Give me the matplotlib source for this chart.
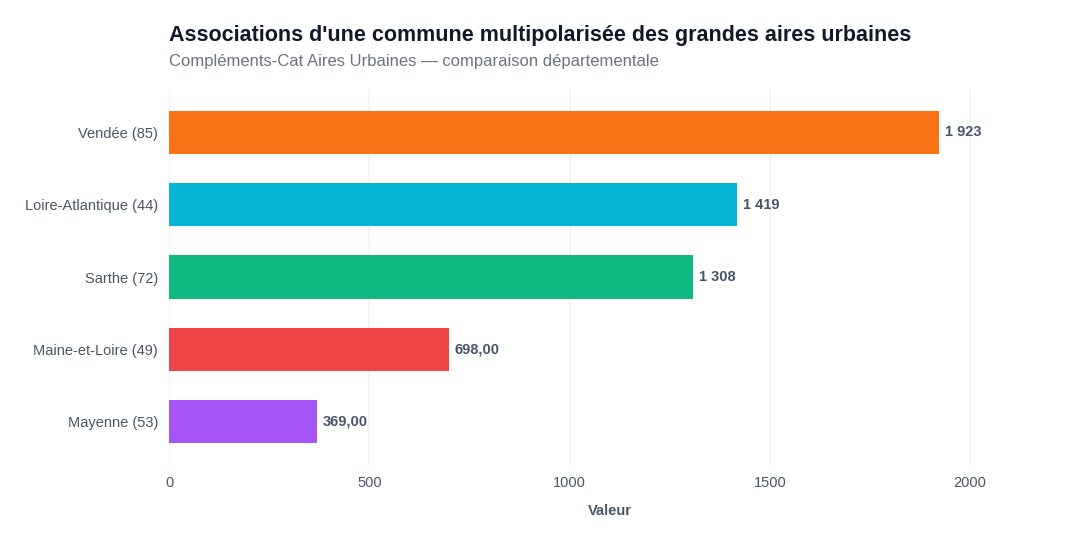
import matplotlib
matplotlib.use("Agg")
import matplotlib.pyplot as plt

# ── data ─────────────────────────────────────────────────────────────────────
departements = ["Vendée (85)", "Loire-Atlantique (44)", "Sarthe (72)",
                "Maine-et-Loire (49)", "Mayenne (53)"]
valeurs = [1923, 1419, 1308, 698, 369]
labels = ["1 923", "1 419", "1 308", "698,00", "369,00"]
couleurs = ["#f97316", "#06b6d4", "#10b981", "#ef4444", "#a855f7"]
xticks = [0, 500, 1000, 1500, 2000]

plt.rcParams["font.family"] = ["Liberation Sans", "DejaVu Sans"]

fig = plt.figure(figsize=(10.8, 5.4), dpi=100)
ax = fig.add_axes([0.1565, 0.139, 0.816, 0.696])

pos = list(range(len(departements)))
ax.barh(pos, valeurs, height=0.6, color=couleurs, zorder=2)

for p, v, lab in zip(pos, valeurs, labels):
    ax.text(v + 15, p, lab, va="center", ha="left", fontsize=10.5,
            fontweight="bold", color="#475569", zorder=3)

ax.set_ylim(4.6, -0.6)
ax.set_xlim(0, 2200)
ax.set_yticks(pos)
ax.set_yticklabels(departements, fontsize=10.5, color="#4b5563")
ax.set_xticks(xticks)
ax.set_xticklabels([str(t) for t in xticks], fontsize=10.5, color="#4b5563")
ax.tick_params(axis="both", length=0, pad=8)

ax.grid(axis="x", color="#f3f4f6", lw=1.2, zorder=0)
for s in ax.spines.values():
    s.set_visible(False)

ax.set_xlabel("Valeur", fontsize=10.5, fontweight="bold", color="#4b5563",
              labelpad=10)

fig.text(0.1565, 0.925, "Associations d'une commune multipolarisée des grandes aires urbaines",
         fontsize=15.5, fontweight="bold", color="#111827", ha="left", va="baseline")
fig.text(0.1565, 0.877, "Compléments-Cat Aires Urbaines — comparaison départementale",
         fontsize=12, color="#6b7280", ha="left", va="baseline")

fig.savefig("out.png", dpi=100)
